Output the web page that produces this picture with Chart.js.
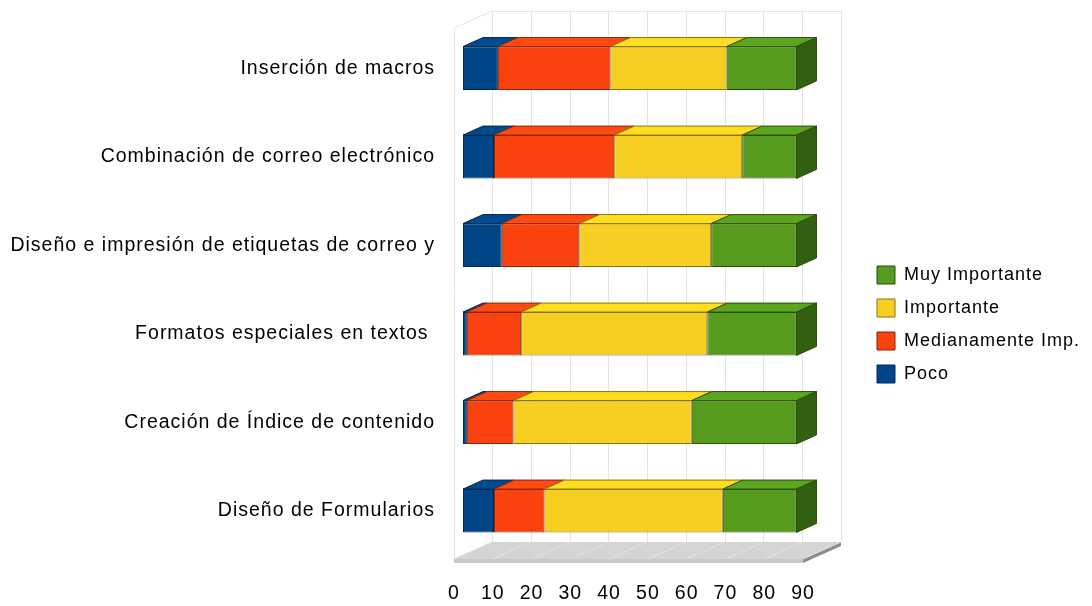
<!DOCTYPE html>
<html>
<head>
<meta charset="utf-8">
<script src="https://cdn.jsdelivr.net/npm/chart.js@4.4.1/dist/chart.umd.min.js"></script>
<style>
html,body{margin:0;padding:0;background:#ffffff;}
#wrap{width:1092px;height:606px;position:relative;}
</style>
</head>
<body>
<div id="wrap"><canvas id="c"></canvas></div>
<script>
// ---- data ----
const categories = [
  "Inserción de macros",
  "Combinación de correo electrónico",
  "Diseño e impresión de etiquetas de correo y",
  "Formatos especiales en textos ",
  "Creación de Índice de contenido",
  "Diseño de Formularios"
];
const seriesNames = ["Poco", "Medianamente Imp.", "Importante", "Muy Importante"];
const poco = [9, 8, 10, 1, 1, 8];
const medianamente = [29, 31, 20, 14, 12, 13];
const importante = [30, 33, 34, 48, 46, 46];
const muyImportante = [18, 14, 22, 23, 27, 19];
const xTicks = [0, 10, 20, 30, 40, 50, 60, 70, 80, 90];

// ---- styles ----
const frontColors = ["#004586", "#f9420e", "#f7cf22", "#569b1d"];
const topColors   = ["#004a8e", "#ff4a12", "#ffde1e", "#5ba51f"];
const sideColors  = ["#002c56", "#a82c08", "#a68b14", "#335f11"];
const edgeColors  = ["#002a52", "#8a2608", "#8a7412", "#2c4f0f"];
const FONT = "'Liberation Sans', Arial, sans-serif";
const LS = '1px';
const AXIS_SIZE = 19.5;
const PLOT_LEFT = 463, PLOT_RIGHT = 812, LEGEND_LEFT = 862;
const LEG = { box: 18, pad: 15, size: 18 };
const G = { front: {dx: -9, dy: 4}, back: {dx: 29, dy: -13}, bar: {dx: 20, dy: -9} };

// legend width as Chart.js computes it, so the plot area ends at PLOT_RIGHT
const mctx = document.createElement('canvas').getContext('2d');
mctx.font = LEG.size + "px " + FONT;
mctx.letterSpacing = LS;
const maxLegText = Math.max(...seriesNames.map(s => mctx.measureText(s).width));
const legendWidth = LEG.pad + LEG.box + LEG.size / 2 + maxLegText + 10;
const padRight = Math.max(0, 1092 - PLOT_RIGHT - legendWidth);

const spacing = {
  id: 'spacing',
  beforeInit(c){ c.ctx.letterSpacing = LS; },
  beforeUpdate(c){ c.ctx.letterSpacing = LS; },
  beforeLayout(c){ c.ctx.letterSpacing = LS; },
  beforeDraw(c){ c.ctx.letterSpacing = LS; },
  resize(c){ c.ctx.letterSpacing = LS; }
};

const legendMove = {
  id: 'legendMove',
  afterLayout(c){
    const L = c.legend;
    if (!L) return;
    const dx = LEGEND_LEFT - L.left;
    const dy = 9.5;
    L.left += dx; L.right += dx;
    L.top += dy; L.bottom += dy;
  }
};

function poly(ctx, pts, fill, stroke){
  ctx.beginPath();
  ctx.moveTo(pts[0][0], pts[0][1]);
  for (let i = 1; i < pts.length; i++) ctx.lineTo(pts[i][0], pts[i][1]);
  ctx.closePath();
  if (fill){ ctx.fillStyle = fill; ctx.fill(); }
  if (stroke){ ctx.strokeStyle = stroke; ctx.lineWidth = 1; ctx.stroke(); }
}

const threeD = {
  id: 'threeD',
  beforeDatasetsDraw(c){
    const ctx = c.ctx, xs = c.scales.x, ca = c.chartArea;
    const x0 = xs.getPixelForValue(xTicks[0]);
    const x1 = xs.getPixelForValue(xTicks[xTicks.length - 1]);
    const T = ca.top, B = ca.bottom;
    const F = G.front, K = G.back;
    ctx.save();
    // floor
    poly(ctx, [[x0+F.dx, B+F.dy],[x1+F.dx, B+F.dy],[x1+K.dx, B+K.dy],[x0+K.dx, B+K.dy]], '#d4d4d4');
    ctx.fillStyle = '#c8c8c8';
    ctx.fillRect(x0+F.dx, B+F.dy, x1-x0, 4);
    poly(ctx, [[x1+F.dx, B+F.dy],[x1+K.dx, B+K.dy],[x1+K.dx, B+K.dy+4],[x1+F.dx, B+F.dy+4]], '#8c8c8c');
    ctx.strokeStyle = '#e2e2e2';
    ctx.lineWidth = 1;
    xTicks.forEach(v => {
      const x = xs.getPixelForValue(v);
      ctx.beginPath();
      ctx.moveTo(x+F.dx, B+F.dy);
      ctx.lineTo(x+K.dx, B+K.dy);
      ctx.stroke();
    });
    // back wall grid
    ctx.strokeStyle = '#e3e3e3';
    xTicks.forEach(v => {
      const x = Math.round(xs.getPixelForValue(v) + K.dx) + 0.5;
      ctx.beginPath();
      ctx.moveTo(x, T+K.dy);
      ctx.lineTo(x, B+K.dy);
      ctx.stroke();
    });
    // back wall top edge
    ctx.beginPath();
    ctx.moveTo(x0+K.dx, Math.round(T+K.dy)+0.5);
    ctx.lineTo(x1+K.dx, Math.round(T+K.dy)+0.5);
    ctx.stroke();
    // side wall
    const sx = Math.round(x0+F.dx)+0.5;
    ctx.beginPath();
    ctx.moveTo(sx, B+F.dy);
    ctx.lineTo(sx, T+F.dy);
    ctx.lineTo(x0+K.dx, T+K.dy);
    ctx.stroke();
    ctx.restore();
  },
  afterDatasetsDraw(c){
    const ctx = c.ctx;
    const D = G.bar;
    ctx.save();
    const n = c.data.datasets.length;
    c.data.datasets.forEach((ds, i) => {
      const meta = c.getDatasetMeta(i);
      meta.data.forEach(bar => {
        const p = bar.getProps(['x', 'y', 'base', 'height'], true);
        const top = p.y - p.height/2, bot = p.y + p.height/2;
        const l = Math.min(p.x, p.base), r = Math.max(p.x, p.base);
        if (r - l <= 0) return;
        poly(ctx, [[l, top],[r, top],[r+D.dx, top+D.dy],[l+D.dx, top+D.dy]], topColors[i], edgeColors[i]);
        if (i === n - 1){
          poly(ctx, [[r, top],[r+D.dx, top+D.dy],[r+D.dx, bot+D.dy],[r, bot]], sideColors[i], edgeColors[i]);
        }
      });
    });
    ctx.restore();
  }
};

const seriesValues = [poco, medianamente, importante, muyImportante];
const datasets = seriesNames.map((name, i) => ({
  label: name,
  data: seriesValues[i],
  backgroundColor: frontColors[i],
  borderColor: edgeColors[i],
  borderWidth: 1,
  borderSkipped: false,
  barPercentage: 0.49,
  categoryPercentage: 1.0
}));

new Chart(document.getElementById('c'), {
  type: 'bar',
  data: { labels: categories, datasets },
  plugins: [spacing, threeD, legendMove],
  options: {
    indexAxis: 'y',
    responsive: true,
    maintainAspectRatio: false,
    animation: false,
    devicePixelRatio: 1,
    layout: { padding: { top: 24, left: 0, right: padRight, bottom: 0 } },
    plugins: {
      tooltip: { enabled: false },
      legend: {
        position: 'right',
        reverse: true,
        labels: {
          boxWidth: LEG.box, boxHeight: LEG.box, padding: LEG.pad,
          color: '#000000',
          font: { family: FONT, size: LEG.size }
        }
      }
    },
    scales: {
      x: {
        stacked: true,
        min: 0, max: 90,
        grid: { display: false, drawTicks: false, tickLength: 0 },
        border: { display: false },
        ticks: {
          stepSize: 10,
          autoSkip: false,
          maxRotation: 0,
          labelOffset: -9,
          padding: 27,
          color: '#000000',
          font: { family: FONT, size: AXIS_SIZE }
        },
        afterFit(s){ s.height = 51; }
      },
      y: {
        stacked: true,
        grid: { display: false, drawTicks: true, tickLength: 16 },
        border: { display: false },
        ticks: {
          padding: 12,
          color: '#000000',
          font: { family: FONT, size: AXIS_SIZE }
        },
        afterFit(s){ s.width = PLOT_LEFT; }
      }
    }
  }
});
</script>
</body>
</html>
